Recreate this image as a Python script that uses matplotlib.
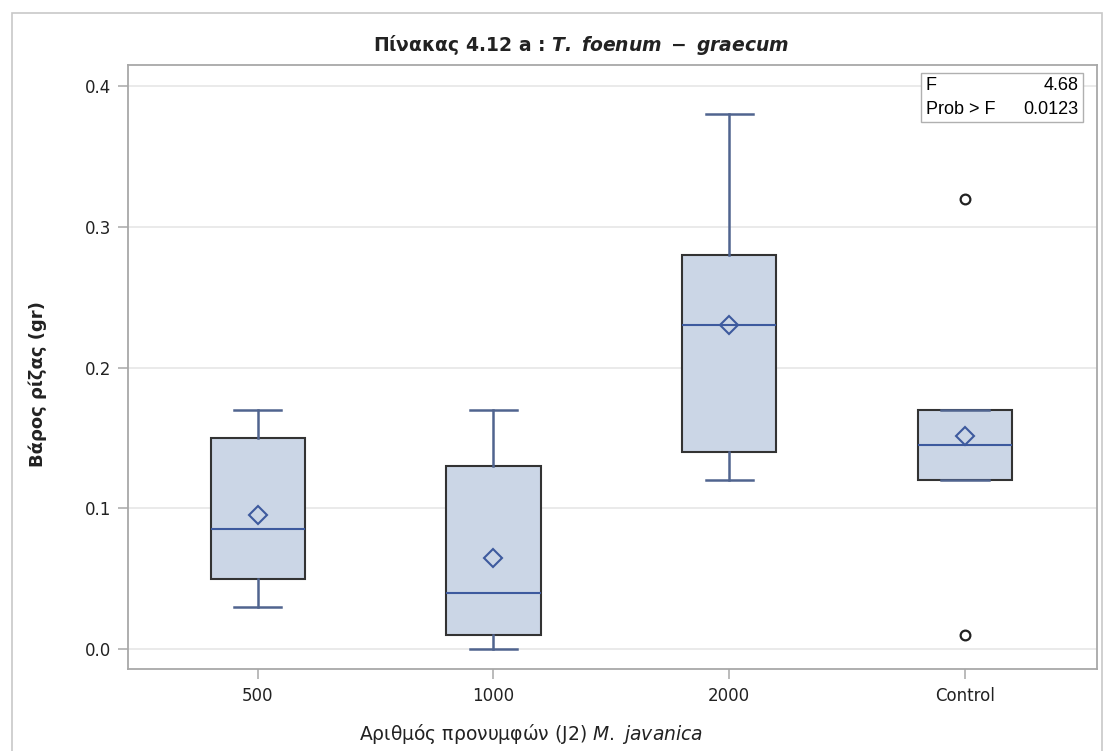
import matplotlib
matplotlib.use("Agg")
import matplotlib.pyplot as plt
from matplotlib.patches import Rectangle

plt.rcParams['font.family'] = ['DejaVu Sans']

# data
groups = ["500", "1000", "2000", "Control"]
whislo = [0.03, 0.00, 0.12, 0.12]
q1 = [0.05, 0.01, 0.14, 0.12]
med = [0.085, 0.04, 0.23, 0.145]
q3 = [0.15, 0.13, 0.28, 0.17]
whishi = [0.17, 0.17, 0.38, 0.17]
means = [0.095, 0.065, 0.23, 0.151]
fliers = [[], [], [], [0.32, 0.01]]

f_value = "4.68"
prob_f = "0.0123"

box_fill = "#cbd6e6"
box_edge = "#333333"
blue = "#3d5a9e"

fig = plt.figure(figsize=(11.04, 7.51), dpi=100)
ax = fig.add_axes([0.116, 0.1092, 0.8777, 0.8042])

stats = []
for i in range(len(groups)):
    stats.append(dict(label=groups[i], whislo=whislo[i], q1=q1[i], med=med[i],
                      q3=q3[i], whishi=whishi[i], mean=means[i], fliers=fliers[i]))

ax.bxp(stats, positions=range(len(groups)), widths=0.4, patch_artist=True,
       showmeans=True, showfliers=True,
       boxprops=dict(facecolor=box_fill, edgecolor=box_edge, linewidth=1.5),
       medianprops=dict(color=blue, linewidth=1.5),
       whiskerprops=dict(color="#50648f", linewidth=1.8),
       capprops=dict(color="#50648f", linewidth=1.8),
       capwidths=0.2,
       meanprops=dict(marker="D", markersize=9, markerfacecolor="none",
                      markeredgecolor=blue, markeredgewidth=1.5),
       flierprops=dict(marker="o", markersize=7, markerfacecolor="none",
                       markeredgecolor="#222222", markeredgewidth=1.6))

ax.set_xlim(-0.55, 3.56)
ax.set_ylim(-0.0142, 0.4149)
ax.set_yticks([0.0, 0.1, 0.2, 0.3, 0.4])
ax.set_yticklabels(["0.0", "0.1", "0.2", "0.3", "0.4"])
ax.yaxis.grid(True, color="#e6e6e6", linewidth=1.2)
ax.set_axisbelow(True)
for s in ax.spines.values():
    s.set_color("#a8a8a8")
    s.set_linewidth(1.3)
ax.tick_params(axis="both", colors="#a8a8a8", labelcolor="#222222",
               labelsize=12, length=7, width=1.1)
ax.tick_params(axis="y", pad=5)
ax.tick_params(axis="x", pad=6)

ax.set_ylabel("Βάρος ρίζας (gr)", fontsize=13, fontweight="bold",
              color="#222222")
ax.yaxis.set_label_coords(-0.0836, 0.472)
ax.set_xlabel(r"Αριθμός προνυμφών (J2) $\mathit{M.\ javanica}$",
              fontsize=13.5, color="#222222")
ax.xaxis.set_label_coords(0.416, -0.087)

fig.text(0.526, 0.94, r"Πίνακας 4.12 a : $\mathbfit{T.\ foenum\ -\ graecum}$",
         ha="center", va="center", fontsize=13.5, fontweight="bold",
         color="#222222")

# F statistic inset
ax.add_patch(Rectangle((0.818, 0.906), 0.167, 0.081, transform=ax.transAxes,
                       facecolor="white", edgecolor="#b0b0b0", linewidth=1.0,
                       zorder=5))
ax.text(0.823, 0.966, "F", transform=ax.transAxes, fontsize=13,
        va="center", ha="left", zorder=6, family="Liberation Sans")
ax.text(0.981, 0.966, f_value, transform=ax.transAxes, fontsize=13,
        va="center", ha="right", zorder=6, family="Liberation Sans")
ax.text(0.823, 0.927, "Prob > F", transform=ax.transAxes, fontsize=13,
        va="center", ha="left", zorder=6, family="Liberation Sans")
ax.text(0.981, 0.927, prob_f, transform=ax.transAxes, fontsize=13,
        va="center", ha="right", zorder=6, family="Liberation Sans")

# outer frame
fig.patches.append(Rectangle((0.011, -0.01), 0.987, 0.993, transform=fig.transFigure,
                             facecolor="none", edgecolor="#c8c8c8", linewidth=1.2))

fig.savefig("out.png", dpi=100)
